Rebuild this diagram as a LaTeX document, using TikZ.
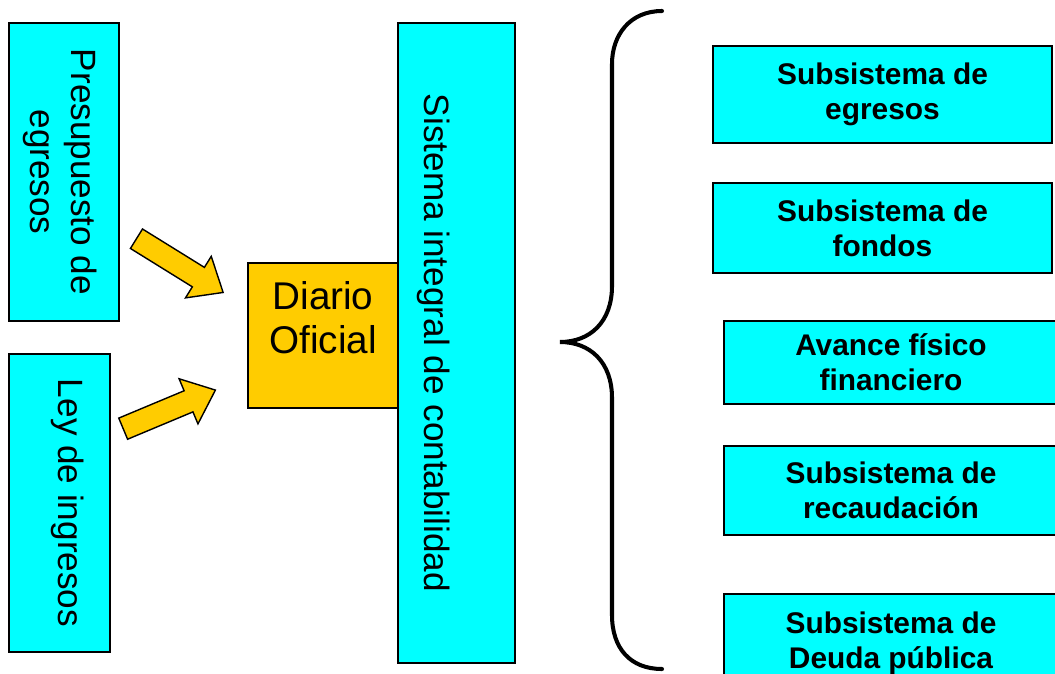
\documentclass[tikz,border=0pt]{standalone}
\usepackage{fontspec}
\setmainfont{Liberation Sans}
\usetikzlibrary{shapes.arrows}
\definecolor{boxcyan}{HTML}{00FFFF}
\definecolor{diariogold}{HTML}{FFCC00}

\begin{document}
\begin{tikzpicture}[x=0.02cm, y=-0.02cm,
    box/.style={draw, rectangle, fill=boxcyan, line width=1pt, inner sep=0pt},
    subbox/.style={box, align=center, font=\fontsize{17}{20}\selectfont\bfseries},
    sidetext/.style={align=center, rotate=-90, inner sep=0pt, font=\fontsize{20}{23}\selectfont},
    blockarrow/.style={draw, single arrow, fill=diariogold, line width=0.8pt, inner xsep=0pt, inner ysep=0.215cm,
        single arrow head extend=0.26cm, single arrow tip angle=80}]
    \useasboundingbox (0,0) rectangle (1055,673);
    \clip (0,0) rectangle (1055,673);

    % Left boxes
    \node[box, minimum width=2.2cm, minimum height=5.96cm] (presupuesto) at (64,172) {};
    \node[sidetext] (presupuestotxt) at ([xshift=-0.08cm]presupuesto.center) {Presupuesto de\\egresos};
    \node[box, minimum width=2.02cm, minimum height=5.96cm] (ley) at (59.5,503) {};
    \node[sidetext] (leytxt) at ([xshift=0.16cm]ley.center) {Ley de ingresos};

    % Diario and sistema
    \node[draw, rectangle, fill=diariogold, line width=1pt, minimum width=3cm, minimum height=2.9cm] (diario) at (323,335.5) {};
    \node[align=center, inner sep=0pt, font=\fontsize{22}{25}\selectfont] (diariotxt) at ([yshift=0.35cm]diario.center) {Diario\\Oficial};
    \node[box, minimum width=2.34cm, minimum height=12.8cm] (sistema) at (456.5,343) {};
    \node[sidetext] (sistematxt) at ([xshift=-0.46cm]sistema.center) {Sistema integral de contabilidad};

    % Arrows
    \node[blockarrow, minimum height=2.04cm, rotate=-31.8] (arrowtop) at (174,262) {};
    \node[blockarrow, minimum height=2.0cm, rotate=22.7] (arrowbottom) at (163,412) {};

    % Brace
    \draw[line width=2.3pt, line cap=round] (662,11) .. controls (630,11) and (612,35) .. (612,64) -- (612,286)
        .. controls (612,322) and (590,342) .. (560,342)
        .. controls (590,342) and (612,362) .. (612,398) -- (612,615)
        .. controls (612,648) and (630,669) .. (662,669);

    % Subsystems
    \node[subbox, minimum width=6.78cm, minimum height=1.94cm] (egresos) at (882.5,94.5) {Subsistema de\\egresos};
    \node[subbox, minimum width=6.78cm, minimum height=1.8cm] (fondos) at (882.5,228) {Subsistema de\\fondos};
    \node[subbox, minimum width=6.68cm, minimum height=1.66cm] (avance) at (891,362.5) {Avance físico\\financiero};
    \node[subbox, minimum width=6.68cm, minimum height=1.78cm] (recaudacion) at (891,490.5) {Subsistema de\\recaudación};
    \node[subbox, minimum width=6.68cm, minimum height=1.96cm] (deuda) at (891,643) {Subsistema de\\Deuda pública};
\end{tikzpicture}
\end{document}
